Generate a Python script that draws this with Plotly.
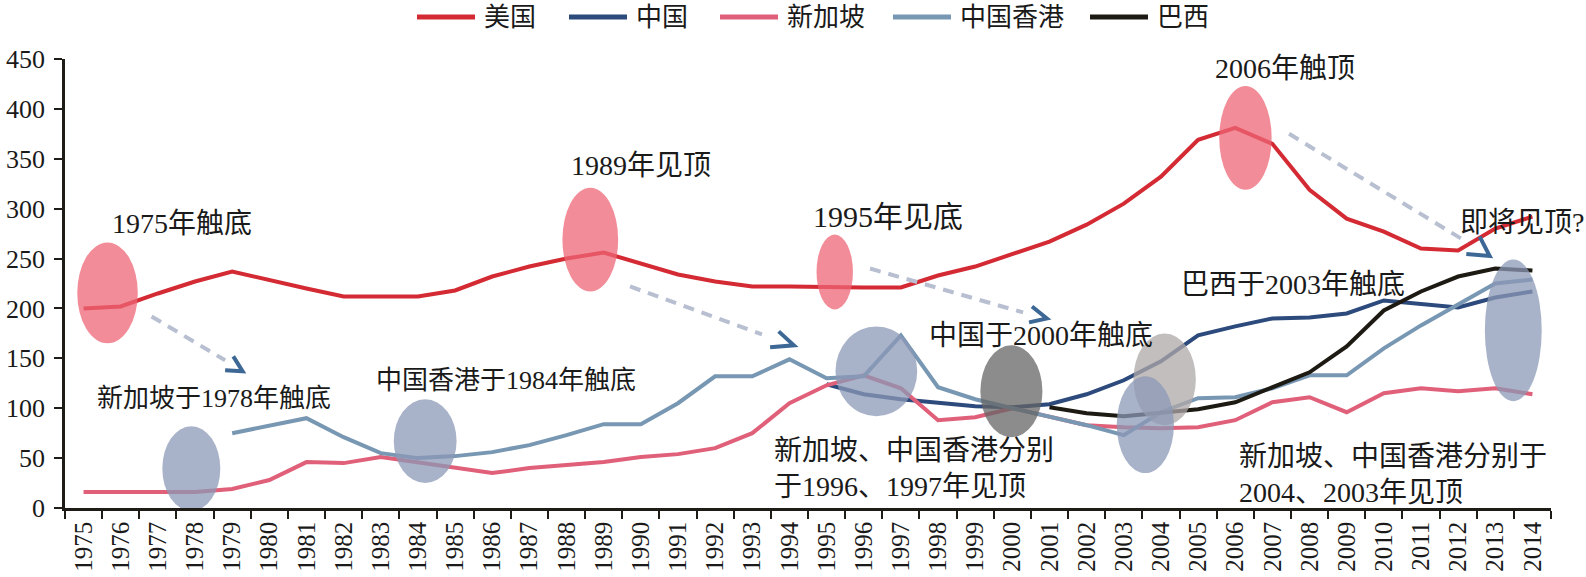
import plotly.graph_objects as go

# ---------------- data ----------------
years = [str(y) for y in range(1975, 2015)]

us = [200, 202, 215, 227, 237, 228, 220, 212, 212, 212,
      218, 232, 242, 250, 256, 245, 234, 227, 222, 222,
      221, 221, 221, 233, 242, 255, 267, 284, 305, 332,
      369, 381, 365, 319, 290, 277, 260, 258, 280, 292]

china = [None] * 20 + [124, 114, 109, 105, 102, 101, 104, 114, 128, 147,
                       173, 182, 190, 191, 195, 208, 205, 201, 211, 217]

singapore = [16, 16, 16, 16, 19, 28, 46, 45, 51, 46,
             40, 35, 40, 43, 46, 51, 54, 60, 75, 105,
             123, 133, 120, 88, 91, 100, 92, 83, 81, 80,
             81, 88, 106, 111, 96, 115, 120, 117, 120, 114]

hongkong = [None] * 4 + [75, 83, 90, 71, 55, 50,
                         52, 56, 63, 73, 84, 84, 105, 132, 132, 149,
                         130, 132, 173, 121, 109, 100, 92, 83, 73, 96,
                         110, 111, 120, 133, 133, 160, 183, 204, 225, 229]

brazil = [None] * 26 + [101, 95, 92, 95, 99, 106, 121, 136, 162, 198,
                        217, 232, 240, 238]

series_names = ["美国", "中国", "新加坡", "中国香港", "巴西"]
series_values = [us, china, singapore, hongkong, brazil]
series_colors = ["#d42a33", "#2c4a7c", "#e0607a", "#7897b3", "#1c1a12"]

y_ticks = [0, 50, 100, 150, 200, 250, 300, 350, 400, 450]

# ---------------- figure ----------------
W, H = 1586, 577
ML, MR, MT, MB = 65, 35, 59, 69
PW, PH = W - ML - MR, H - MT - MB

SERIF = "'Liberation Serif', 'Times New Roman', Times, 'Noto Sans CJK SC', serif"
TXT = "#1a1a1a"

fig = go.Figure()
for name, vals, color in zip(series_names, series_values, series_colors):
    fig.add_trace(go.Scatter(x=years, y=vals, name=name, mode="lines",
                             line=dict(color=color, width=4),
                             showlegend=False, hoverinfo="skip"))


def ix(year_pos):
    """category position (fractional) from a year value"""
    return year_pos - 1975


# highlight ellipses (year range, value range, fill)
PINK = "rgba(238,102,118,0.75)"
BLUE = "rgba(139,152,182,0.75)"
DARK = "rgba(102,102,102,0.75)"
LGREY = "rgba(175,168,168,0.75)"
ellipses = [
    (1974.83, 1976.46, 165, 266, PINK),
    (1987.89, 1989.39, 217, 321, PINK),
    (1994.73, 1995.71, 199, 274, PINK),
    (2005.57, 2006.98, 319, 423, PINK),
    (1977.12, 1978.68, -3, 82, BLUE),
    (1983.35, 1985.04, 25, 109, BLUE),
    (1995.24, 1997.44, 92, 182, BLUE),
    (1999.14, 2000.81, 71, 163, DARK),
    (2003.26, 2004.94, 83, 175, LGREY),
    (2002.81, 2004.35, 35, 132, BLUE),
    (2012.72, 2014.25, 107, 249, BLUE),
]
for x0, x1, y0, y1, col in ellipses:
    fig.add_shape(type="circle", xref="x", yref="y",
                  x0=ix(x0), x1=ix(x1), y0=y0, y1=y1,
                  fillcolor=col, line=dict(width=0), layer="above")

# dashed arrows: shaft start, shaft end, chevron (arm, tip, arm)
arrows = [
    ((1976.83, 192), (1978.81, 148), (1979.03, 152), (1979.28, 137), (1978.81, 138)),
    ((1989.71, 222), (1993.26, 174), (1993.71, 177), (1994.12, 163), (1993.48, 161)),
    ((1996.17, 240), (2000.29, 196), (2000.53, 202), (2000.93, 190), (2000.45, 186)),
    ((2007.45, 375), (2012.26, 266), (2012.58, 272), (2012.85, 252.5), (2012.22, 254.5)),
]
for s, e, a1, tip, a2 in arrows:
    fig.add_shape(type="line", xref="x", yref="y",
                  x0=ix(s[0]), y0=s[1], x1=ix(e[0]), y1=e[1],
                  line=dict(color="#b7bfd1", width=4, dash="11px,8px"), layer="above")
    path = "M {},{} L {},{} L {},{}".format(ix(a1[0]), a1[1], ix(tip[0]), tip[1], ix(a2[0]), a2[1])
    fig.add_shape(type="path", xref="x", yref="y", path=path,
                  line=dict(color="#3d6896", width=4), layer="above")

# text notes: (x year-position, y value, text, size, xanchor)
notes = [
    (1977.64, 285, "1975年触底", 28, "center"),
    (1978.51, 110, "新加坡于1978年触底", 26, "center"),
    (1986.37, 128, "中国香港于1984年触底", 26, "center"),
    (1990.0, 343, "1989年见顶", 28, "center"),
    (1996.65, 292, "1995年见底", 30, "center"),
    (2000.77, 172.5, "中国于2000年触底", 28, "center"),
    (1993.53, 40, "新加坡、中国香港分别<br>于1996、1997年见顶", 28, "left"),
    (2007.35, 440.5, "2006年触顶", 28, "center"),
    (2012.0, 286, "即将见顶?", 28, "left"),
    (2007.56, 224.5, "巴西于2003年触底", 28, "center"),
    (2006.04, 34, "新加坡、中国香港分别于<br>2004、2003年见顶", 28, "left"),
]
for x, y, t, sz, xa in notes:
    fig.add_annotation(x=ix(x), y=y, xref="x", yref="y", text=t, showarrow=False,
                       xanchor=xa, yanchor="middle", align="left",
                       font=dict(family=SERIF, size=sz, color=TXT))


# custom legend (layout positions in pixels -> paper)
def px_x(p):
    return (p - ML) / PW


def px_y(p):
    return (H - MB - p) / PH


legend_line_x = [417, 569, 720, 893, 1090]
for lx, name, color in zip(legend_line_x, series_names, series_colors):
    fig.add_shape(type="line", xref="paper", yref="paper",
                  x0=px_x(lx), x1=px_x(lx + 58), y0=px_y(17), y1=px_y(17),
                  line=dict(color=color, width=5))
    fig.add_annotation(x=px_x(lx + 65), y=px_y(17), xref="paper", yref="paper",
                       text=name, showarrow=False, xanchor="left", yanchor="middle",
                       font=dict(family=SERIF, size=26, color=TXT))

fig.update_layout(
    width=W, height=H,
    margin=dict(l=ML, r=MR, t=MT, b=MB, pad=0, autoexpand=False),
    paper_bgcolor="white", plot_bgcolor="white",
    showlegend=False,
    font=dict(family=SERIF, size=26, color=TXT),
)
fig.update_xaxes(type="category", categoryorder="array", categoryarray=years,
                 range=[-0.5, len(years) - 0.5], tickson="boundaries",
                 ticks="outside", ticklen=8, tickwidth=2, tickcolor="#1f1b16",
                 showline=True, linecolor="#1f1b16", linewidth=2.5,
                 showgrid=False, zeroline=False, tickangle=-90, dtick=1,
                 automargin=False, ticklabelstandoff=1,
                 tickfont=dict(family=SERIF, size=25, color=TXT))
fig.update_yaxes(range=[0, 450], tickmode="array", tickvals=y_ticks,
                 ticks="outside", ticklen=8, tickwidth=2, tickcolor="#1f1b16",
                 showline=True, linecolor="#1f1b16", linewidth=2.5,
                 showgrid=False, zeroline=False, ticklabelstandoff=4,
                 automargin=False,
                 tickfont=dict(family=SERIF, size=26, color=TXT))

fig.write_html("out.html")
